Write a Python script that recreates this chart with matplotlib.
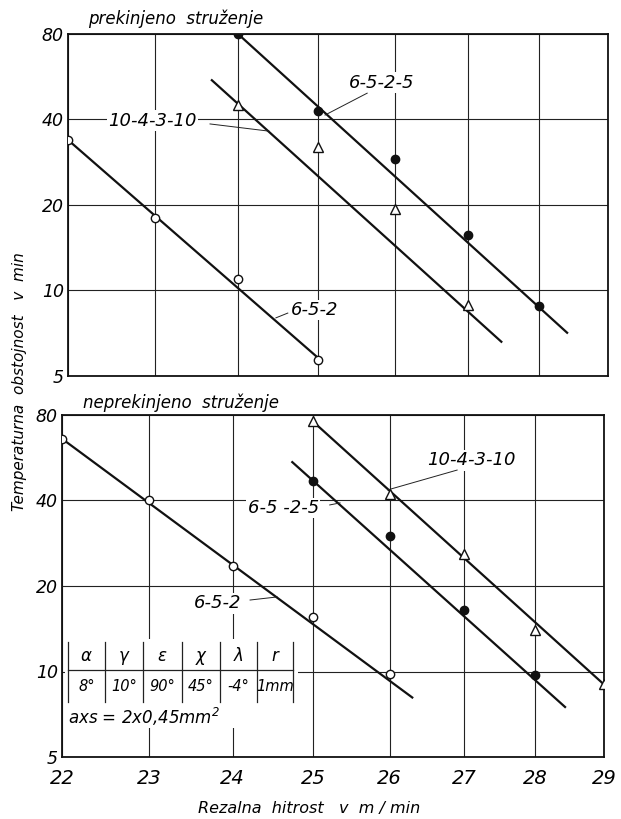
import matplotlib
matplotlib.use("Agg")
import matplotlib.pyplot as plt
from matplotlib.ticker import FixedLocator, NullLocator, FixedFormatter

plt.rcParams['font.family'] = ['DejaVu Sans']
plt.rcParams['font.style'] = 'italic'

# osi: hitrost (log) in obstojnost (log)
speed_ticks = [22, 23, 24, 25, 26, 27, 28, 29]
life_ticks = [5, 10, 20, 40, 80]

# prekinjeno struzenje - meritve
top_652_x = [22, 23, 24, 25]
top_652_y = [34, 18, 11, 5.7]
top_6525_x = [24, 25, 26, 27, 28]
top_6525_y = [80, 43, 29, 15.7, 8.8]
top_104310_x = [24, 25, 26, 27]
top_104310_y = [45, 32, 19.4, 8.9]
# izravnane premice (zacetek, konec)
top_652_fit_x = [22, 25]
top_652_fit_y = [33.9, 5.8]
top_6525_fit_x = [24, 28.4]
top_6525_fit_y = [80, 7.1]
top_104310_fit_x = [23.68, 27.46]
top_104310_fit_y = [55, 6.6]

# neprekinjeno struzenje - meritve
bot_652_x = [22, 23, 24, 25, 26]
bot_652_y = [66, 40, 23.5, 15.5, 9.8]
bot_6525_x = [25, 26, 27, 28]
bot_6525_y = [47, 30, 16.5, 9.7]
bot_104310_x = [25, 26, 27, 28, 29]
bot_104310_y = [76, 42, 26, 14, 9]
bot_652_fit_x = [22, 26.3]
bot_652_fit_y = [66, 8.1]
bot_6525_fit_x = [24.74, 28.43]
bot_6525_fit_y = [54.6, 7.5]
bot_104310_fit_x = [25, 29]
bot_104310_fit_y = [76, 9]

# geometrija orodja
tool_symbols = ['α', 'γ', 'ε', 'χ', 'λ', 'r']
tool_values = ['8°', '10°', '90°', '45°', '-4°', '1mm']

W, H = 621, 819
fig = plt.figure(figsize=(W / 100, H / 100), dpi=100)


def px_axes(left, top, right, bottom):
    return fig.add_axes([left / W, 1 - bottom / H, (right - left) / W, (bottom - top) / H])


def setup(ax, show_x):
    ax.set_xscale('log')
    ax.set_yscale('log')
    ax.set_xlim(22, 29)
    ax.set_ylim(5, 80)
    ax.xaxis.set_major_locator(FixedLocator(speed_ticks))
    ax.xaxis.set_minor_locator(NullLocator())
    ax.yaxis.set_major_locator(FixedLocator(life_ticks))
    ax.yaxis.set_minor_locator(NullLocator())
    ax.yaxis.set_major_formatter(FixedFormatter([str(v) for v in life_ticks]))
    if show_x:
        ax.xaxis.set_major_formatter(FixedFormatter([str(v) for v in speed_ticks]))
    else:
        ax.xaxis.set_major_formatter(FixedFormatter([''] * len(speed_ticks)))
    ax.tick_params(axis='both', length=0)
    ax.tick_params(axis='y', pad=3, labelsize=12.5)
    ax.tick_params(axis='x', pad=9, labelsize=14)
    ax.grid(True, color='#222222', linewidth=0.8)
    for s in ax.spines.values():
        s.set_linewidth(1.3)
        s.set_color('#111111')
    ax.set_axisbelow(True)


def series(ax, fx, fy, mx, my, marker, filled):
    ax.plot(fx, fy, color='#111111', linewidth=1.6, zorder=3)
    ax.plot(mx, my, linestyle='none', marker=marker, markersize=6 if marker == 'o' else 6.5,
            markerfacecolor='#111111' if filled else 'white',
            markeredgecolor='#111111', markeredgewidth=1.0, zorder=4)


def label(ax, text, xy, line_from, line_to, size=13):
    ax.text(xy[0], xy[1], text, transform=ax.transAxes, ha='center', va='center',
            fontsize=size, zorder=5,
            bbox=dict(fc='white', ec='none', pad=1.0))
    ax.plot([line_from[0], line_to[0]], [line_from[1], line_to[1]], transform=ax.transAxes,
            color='#222222', linewidth=0.7, zorder=5)


# zgornji diagram
ax1 = px_axes(68, 34, 608, 376)
setup(ax1, False)
series(ax1, top_652_fit_x, top_652_fit_y, top_652_x, top_652_y, 'o', False)
series(ax1, top_6525_fit_x, top_6525_fit_y, top_6525_x, top_6525_y, 'o', True)
series(ax1, top_104310_fit_x, top_104310_fit_y, top_104310_x, top_104310_y, '^', False)
ax1.text(0.037, 1.045, 'prekinjeno  struženje', transform=ax1.transAxes, fontsize=12,
         ha='left', va='center')
label(ax1, '6-5-2-5', (0.581, 0.857), (0.554, 0.827), (0.476, 0.763))
label(ax1, '10-4-3-10', (0.157, 0.746), (0.263, 0.737), (0.372, 0.716))
label(ax1, '6-5-2', (0.456, 0.193), (0.407, 0.184), (0.385, 0.170))

# spodnji diagram
ax2 = px_axes(62, 415, 604, 757)
setup(ax2, True)
series(ax2, bot_652_fit_x, bot_652_fit_y, bot_652_x, bot_652_y, 'o', False)
series(ax2, bot_6525_fit_x, bot_6525_fit_y, bot_6525_x, bot_6525_y, 'o', True)
series(ax2, bot_104310_fit_x, bot_104310_fit_y, bot_104310_x, bot_104310_y, '^', False)
ax2.text(0.039, 1.035, 'neprekinjeno  struženje', transform=ax2.transAxes, fontsize=12,
         ha='left', va='center')
label(ax2, '10-4-3-10', (0.756, 0.868), (0.729, 0.839), (0.601, 0.781))
label(ax2, '6-5 -2-5', (0.408, 0.728), (0.494, 0.737), (0.513, 0.743))
label(ax2, '6-5-2', (0.288, 0.450), (0.347, 0.459), (0.397, 0.468))

# tabela z geometrijo orodja
tr = ax2.transAxes
ax2.add_patch(plt.Rectangle((0.006, 0.085), 0.43, 0.26, transform=tr, fc='white',
                            ec='none', zorder=2))
col_x = [0.011, 0.079, 0.149, 0.221, 0.292, 0.360, 0.426]
for x in col_x:
    ax2.plot([x, x], [0.161, 0.336], transform=tr, color='#222222', linewidth=0.9, zorder=3)
ax2.plot([col_x[0], col_x[-1]], [0.254, 0.254], transform=tr, color='#222222',
         linewidth=0.9, zorder=3)
for i, (sym, val) in enumerate(zip(tool_symbols, tool_values)):
    cx = (col_x[i] + col_x[i + 1]) / 2
    ax2.text(cx, 0.294, sym, transform=tr, ha='center', va='center', fontsize=12, zorder=4)
    ax2.text(cx, 0.205, val, transform=tr, ha='center', va='center', fontsize=10.5, zorder=4)
ax2.text(0.011, 0.117, 'axs = 2x0,45mm$^2$', transform=tr, ha='left', va='center',
         fontsize=12, zorder=4)

fig.text(20 / W, 1 - 382 / H, 'Temperaturna  obstojnost   v  min', rotation=90,
         ha='center', va='center', fontsize=11)
fig.text(309 / W, 1 - 808 / H, 'Rezalna  hitrost   v  m / min', ha='center', va='center',
         fontsize=11.5)

fig.savefig('out.png', dpi=100, facecolor='white')
